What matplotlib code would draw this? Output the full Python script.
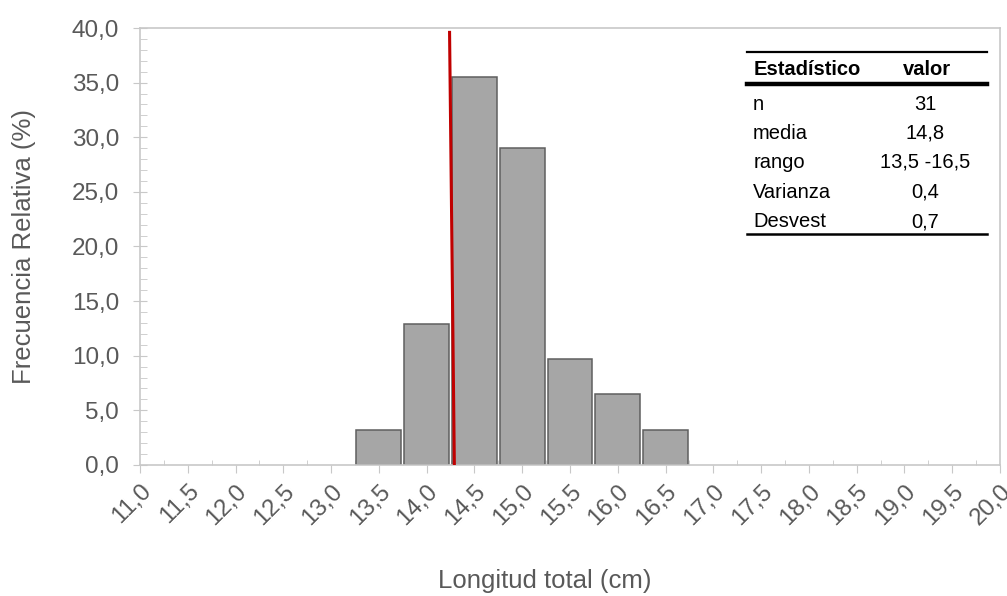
"""Histograma de longitud total con tabla de estadisticos."""

import matplotlib

matplotlib.use("Agg")
import matplotlib.pyplot as plt
import numpy as np
from matplotlib.lines import Line2D
from matplotlib.ticker import FuncFormatter, MultipleLocator

# clases (cm) y frecuencia relativa (%)
clases = [13.5, 14.0, 14.5, 15.0, 15.5, 16.0, 16.5]
frecuencia = [3.2, 12.9, 35.5, 29.0, 9.7, 6.5, 3.2]

# linea roja (ligeramente inclinada en el original)
linea_x = [14.29, 14.24]
linea_y = [0.0, 39.6]

tabla_etiquetas = ["n", "media", "rango", "Varianza", "Desvest"]
tabla_valores = ["31", "14,8", "13,5 -16,5", "0,4", "0,7"]

GRIS_TEXTO = "#595959"
GRIS_EJE = "#c8c8c8"


def coma(v, _pos):
    return f"{v:.1f}".replace(".", ",")


def main() -> None:
    plt.rcParams["font.family"] = ["Liberation Sans", "DejaVu Sans"]

    fig, ax = plt.subplots(figsize=(10.07, 5.96), dpi=100)
    fig.subplots_adjust(left=0.139, right=0.993, bottom=0.22, top=0.953)

    ax.bar(clases, frecuencia, width=0.47, color="#a6a6a6",
           edgecolor="#5f5f5f", linewidth=1.1, zorder=2)
    ax.plot(linea_x, linea_y, color="#c00000", linewidth=2.2, zorder=3)

    ax.set_xlim(11.0, 20.0)
    ax.set_ylim(0.0, 40.0)
    ax.xaxis.set_major_locator(MultipleLocator(0.5))
    ax.xaxis.set_minor_locator(MultipleLocator(0.25))
    ax.yaxis.set_major_locator(MultipleLocator(5))
    ax.yaxis.set_minor_locator(MultipleLocator(1))
    ax.xaxis.set_major_formatter(FuncFormatter(coma))
    ax.yaxis.set_major_formatter(FuncFormatter(coma))

    for sp in ax.spines.values():
        sp.set_color(GRIS_EJE)
        sp.set_linewidth(1.2)

    ax.tick_params(axis="x", which="major", direction="out", length=6,
                   color=GRIS_EJE, labelcolor=GRIS_TEXTO, labelsize=17.5, pad=5)
    ax.tick_params(axis="x", which="minor", direction="in", length=3.5,
                   color=GRIS_EJE)
    ax.tick_params(axis="y", which="major", direction="inout", length=10,
                   color=GRIS_EJE, labelcolor=GRIS_TEXTO, labelsize=17.5, pad=10)
    ax.tick_params(axis="y", which="minor", direction="in", length=5,
                   color=GRIS_EJE)
    for lab in ax.get_xticklabels():
        lab.set_rotation(45)
        lab.set_ha("right")
        lab.set_va("top")
        lab.set_rotation_mode("anchor")

    ax.set_xlabel("Longitud total (cm)", fontsize=18.5, color=GRIS_TEXTO)
    ax.set_ylabel("Frecuencia Relativa (%)", fontsize=18.5, color=GRIS_TEXTO)
    ax.xaxis.set_label_coords(0.471, -0.238)
    ax.yaxis.set_label_coords(-0.121, 0.5)

    # tabla de estadisticos
    t = ax.transAxes
    x0, x1 = 0.706, 0.985
    for y, lw in ((0.945, 1.6), (0.872, 3.2), (0.529, 1.8)):
        ax.add_line(Line2D([x0, x1], [y, y], transform=t, color="black",
                           linewidth=lw, zorder=5))
    ax.text(0.713, 0.904, "Estadístico", transform=t, fontsize=14.5,
            fontweight="bold", va="center", ha="left")
    ax.text(0.915, 0.904, "valor", transform=t, fontsize=14.5,
            fontweight="bold", va="center", ha="center")
    filas_y = [0.826, 0.759, 0.693, 0.624, 0.556]
    for y, etiqueta, valor in zip(filas_y, tabla_etiquetas, tabla_valores):
        ax.text(0.713, y, etiqueta, transform=t, fontsize=14.5, va="center",
                ha="left")
        ax.text(0.913, y, valor, transform=t, fontsize=14.5, va="center",
                ha="center")

    fig.savefig("out.png", dpi=100)
    plt.close(fig)


if __name__ == "__main__":
    main()
